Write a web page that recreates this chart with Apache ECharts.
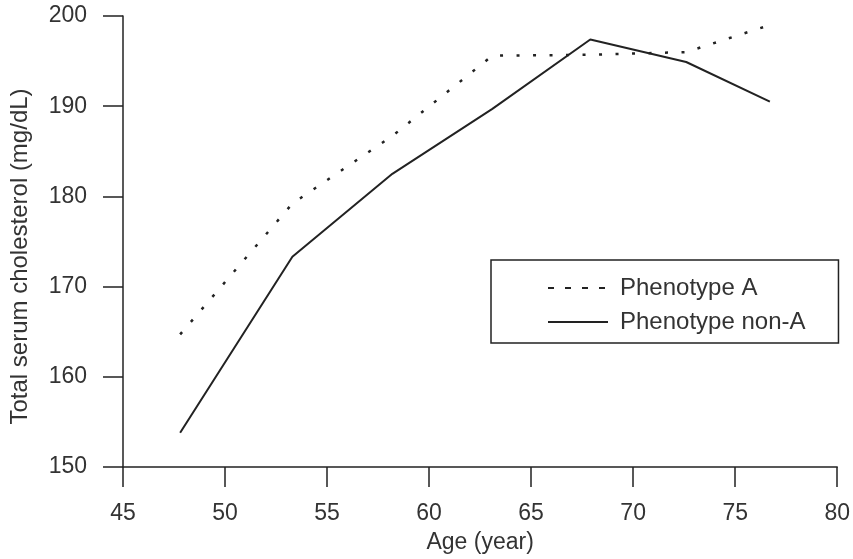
<!DOCTYPE html>
<html>
<head>
<meta charset="utf-8">
<script src="https://cdn.jsdelivr.net/npm/echarts@6/dist/echarts.min.js"></script>
<style>
html, body { margin: 0; padding: 0; background: #fff; }
#chart { width: 853px; height: 559px; }
</style>
</head>
<body>
<div id="chart"></div>
<script>
var ages = [47.8, 53.3, 58.2, 63.1, 67.9, 72.6, 76.7];
var phenoA = [164.7, 179.2, 186.7, 195.6, 195.7, 196.0, 199.0];
var phenoNonA = [153.8, 173.3, 182.5, 189.7, 197.4, 194.9, 190.5];
var names = ['Phenotype A', 'Phenotype non-A'];

function pairs(ys) {
    return ages.map(function (a, i) { return [a, ys[i]]; });
}

var ink = '#222';
var font = 'Liberation Sans';
var noSymbol = { color: 'rgba(0,0,0,0)', borderWidth: 0 };

var chart = echarts.init(document.getElementById('chart'));
var option = {
    animation: false,
    backgroundColor: '#fff',
    grid: { left: 122, right: 15, top: 16, bottom: 89 },
    xAxis: {
        type: 'value',
        min: 45, max: 80, interval: 5,
        name: 'Age (year)',
        nameLocation: 'middle',
        nameGap: 64,
        nameTextStyle: { fontFamily: font, fontSize: 23, color: '#333' },
        axisLine: { lineStyle: { color: ink, width: 1.5 } },
        axisTick: { length: 20, lineStyle: { color: ink, width: 1.5 } },
        axisLabel: { margin: 35, fontFamily: font, fontSize: 23, color: '#333' },
        splitLine: { show: false }
    },
    yAxis: {
        type: 'value',
        min: 150, max: 200, interval: 10,
        name: 'Total serum cholesterol (mg/dL)',
        nameLocation: 'middle',
        nameGap: 91,
        nameTextStyle: { fontFamily: font, fontSize: 24, color: '#333', padding: [0, 30, 0, 0] },
        axisLine: { show: true, lineStyle: { color: ink, width: 1.5 } },
        axisTick: { show: true, length: 20, lineStyle: { color: ink, width: 1.5 } },
        axisLabel: { margin: 36, fontFamily: font, fontSize: 23, color: '#333' },
        splitLine: { show: false }
    },
    legend: {
        orient: 'vertical',
        left: 491, top: 260,
        padding: [16, 33, 9, 56],
        itemGap: 10,
        itemWidth: 60, itemHeight: 14,
        borderColor: ink, borderWidth: 1.5, borderRadius: 0,
        textStyle: { fontFamily: font, fontSize: 24, color: '#333', lineHeight: 24, padding: [0, 0, 0, 7] },
        data: [
            { name: names[0], itemStyle: noSymbol, lineStyle: { type: [6, 11], width: 2, color: ink } },
            { name: names[1], itemStyle: noSymbol, lineStyle: { type: 'solid', width: 2, color: ink } }
        ]
    },
    series: [{
        name: names[0],
        type: 'line',
        data: pairs(phenoA),
        symbol: 'none',
        color: ink,
        lineStyle: { type: [3, 13.5], width: 2.5, color: ink }
    }, {
        name: names[1],
        type: 'line',
        data: pairs(phenoNonA),
        symbol: 'none',
        color: ink,
        lineStyle: { type: 'solid', width: 2, color: ink }
    }]
};
chart.setOption(option);
</script>
</body>
</html>
